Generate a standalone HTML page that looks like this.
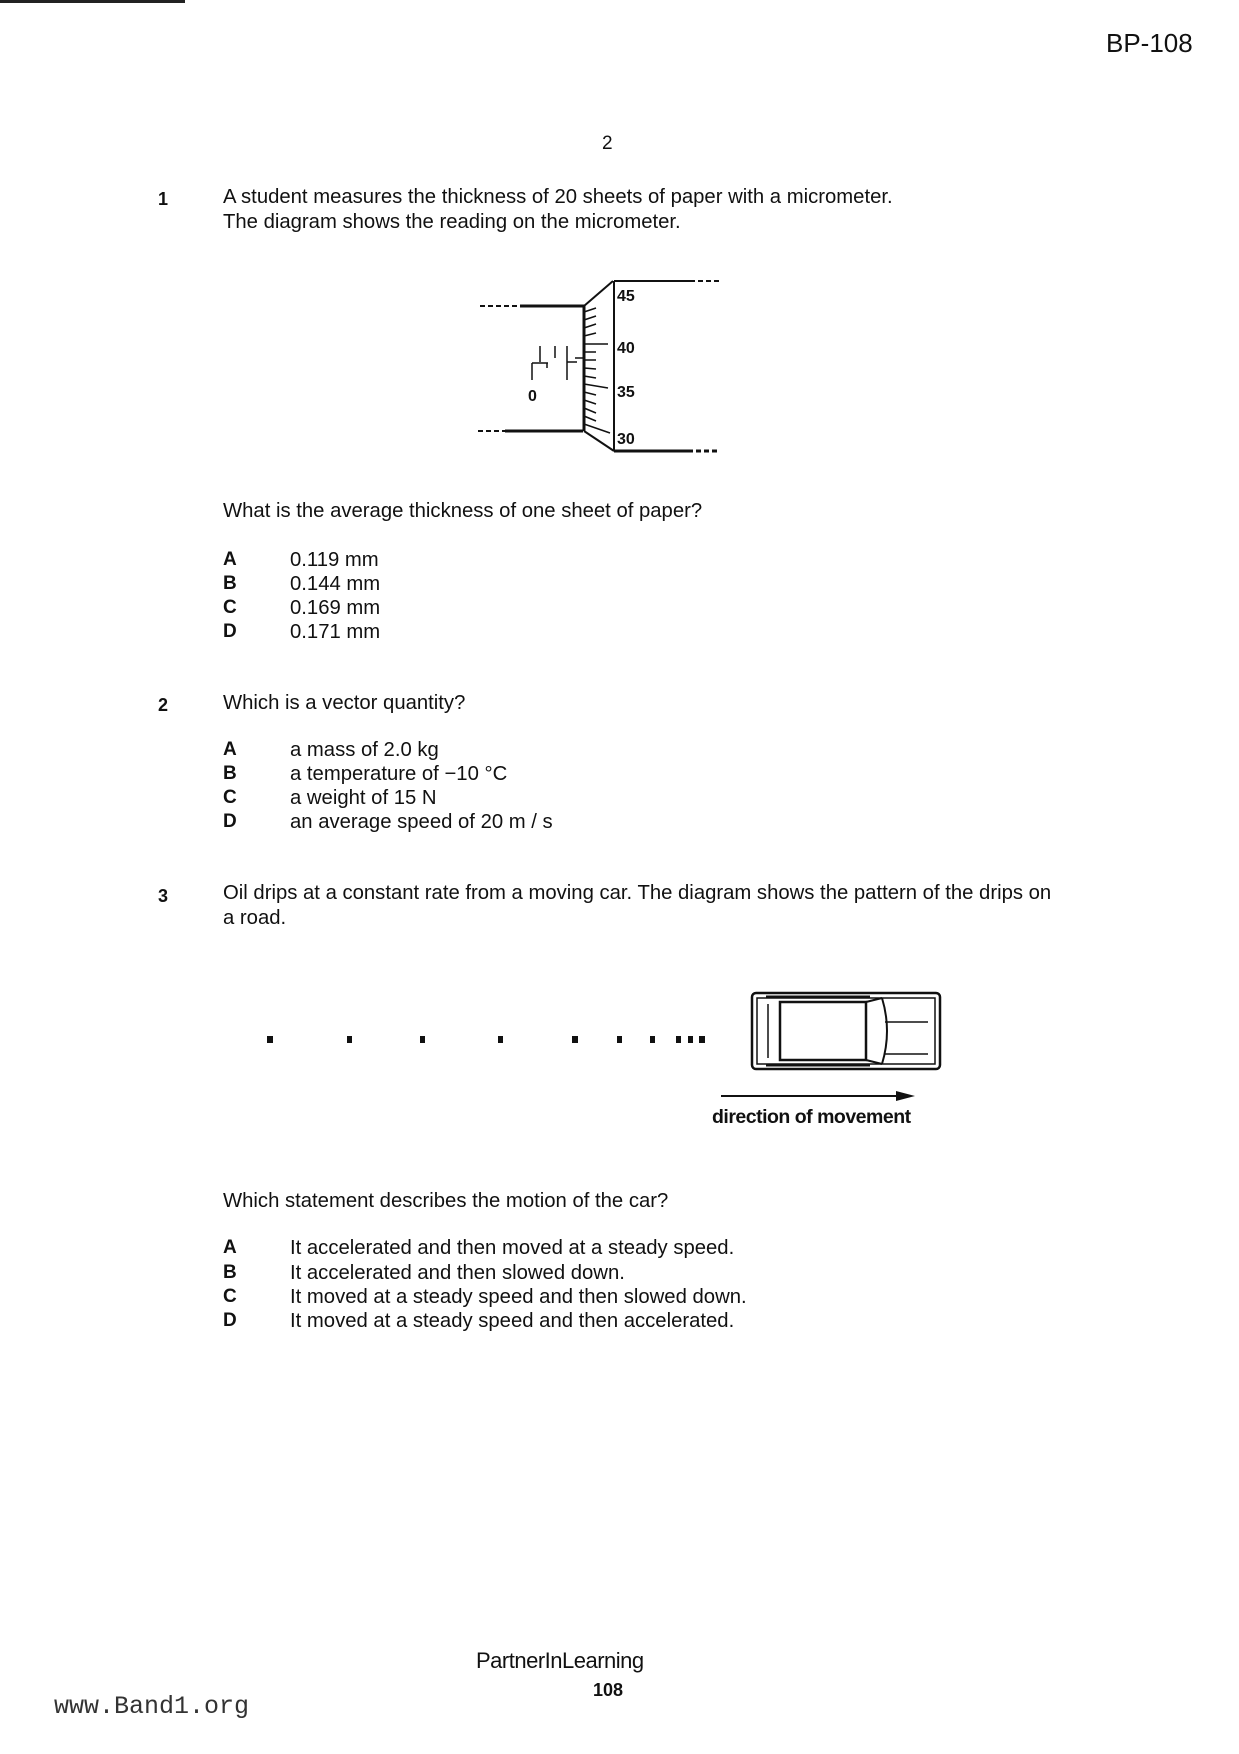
<!DOCTYPE html>
<html><head><style>
body{margin:0;width:1239px;height:1754px;background:#fff;position:relative;font-family:"Liberation Sans",sans-serif;color:#111;overflow:hidden}
.t{position:absolute;font-size:20.3px;white-space:nowrap;line-height:22px}
.b{font-weight:bold}
</style></head><body>
<div style="position:absolute;left:0;top:0;width:185px;height:3px;background:#222"></div>
<div class="t" style="left:1106px;top:29px;font-size:26px;line-height:28px">BP-108</div>
<div class="t" style="left:602px;top:133px;font-size:19px">2</div>

<div class="t b" style="left:158px;top:188px;font-size:18px">1</div>
<div class="t" style="left:223px;top:186px">A student measures the thickness of 20 sheets of paper with a micrometer.</div>
<div class="t" style="left:223px;top:211px">The diagram shows the reading on the micrometer.</div>

<svg style="position:absolute;left:0;top:0" width="1239" height="1754">
<g stroke="#111" fill="none">
<line x1="480" y1="306" x2="520" y2="306" stroke-width="2" stroke-dasharray="5,3"/>
<line x1="520" y1="306" x2="585" y2="306" stroke-width="3"/>
<line x1="478" y1="431" x2="505" y2="431" stroke-width="2" stroke-dasharray="5,3"/>
<line x1="505" y1="431" x2="583" y2="431" stroke-width="3"/>
<line x1="584" y1="306" x2="584" y2="431" stroke-width="3"/>
<line x1="584" y1="306" x2="613" y2="281" stroke-width="2"/>
<line x1="584" y1="431" x2="614" y2="451" stroke-width="2"/>
<line x1="614" y1="281" x2="614" y2="451" stroke-width="2"/>
<line x1="614" y1="281" x2="690" y2="281" stroke-width="2"/>
<line x1="690" y1="281" x2="720" y2="281" stroke-width="2" stroke-dasharray="5,3"/>
<line x1="614" y1="451" x2="688" y2="451" stroke-width="3"/>
<line x1="688" y1="451" x2="718" y2="451" stroke-width="3" stroke-dasharray="5,3"/>
<g stroke-width="1.5">
<line x1="584" y1="312" x2="596" y2="308"/><line x1="584" y1="320" x2="596" y2="316"/><line x1="584" y1="328" x2="596" y2="324"/><line x1="584" y1="336" x2="596" y2="333"/><line x1="584" y1="344" x2="608" y2="344"/><line x1="584" y1="352" x2="596" y2="352"/><line x1="584" y1="360" x2="596" y2="360"/><line x1="584" y1="368" x2="596" y2="369"/><line x1="584" y1="376" x2="596" y2="378"/><line x1="584" y1="384" x2="608" y2="388"/><line x1="584" y1="392" x2="596" y2="395"/><line x1="584" y1="400" x2="596" y2="404"/><line x1="584" y1="408" x2="596" y2="413"/><line x1="584" y1="416" x2="596" y2="421"/><line x1="584" y1="424" x2="610" y2="433"/>
<line x1="532" y1="363" x2="532" y2="380"/><line x1="532" y1="363" x2="548" y2="363"/><line x1="540" y1="346" x2="540" y2="362"/><line x1="547" y1="363" x2="547" y2="368"/>
<line x1="555" y1="346" x2="555" y2="358"/><line x1="567" y1="346" x2="567" y2="362"/><line x1="567" y1="362" x2="577" y2="362"/><line x1="567" y1="362" x2="567" y2="380"/><line x1="575" y1="358" x2="583" y2="358"/>
</g>
</g>
<g font-family="Liberation Sans,sans-serif" font-size="16" font-weight="bold" fill="#111">
<text x="617" y="301">45</text><text x="617" y="353">40</text><text x="617" y="397">35</text><text x="617" y="444">30</text><text x="528" y="401">0</text>
</g>
<g fill="#111">
<rect x="267" y="1036" width="6" height="7"/><rect x="347" y="1036" width="5" height="7"/><rect x="420" y="1036" width="5" height="7"/><rect x="498" y="1036" width="5" height="7"/><rect x="572" y="1036" width="6" height="7"/><rect x="617" y="1036" width="5" height="7"/><rect x="650" y="1036" width="5" height="7"/><rect x="676" y="1036" width="5" height="7"/><rect x="688" y="1036" width="5" height="7"/><rect x="699" y="1036" width="6" height="7"/>
</g>
<g stroke="#111" fill="none" stroke-width="2.5" transform="translate(0,-6)">
<rect x="752" y="999" width="188" height="76" rx="4"/>
<rect x="757" y="1004" width="178" height="66" stroke-width="1.5"/>
<rect x="780" y="1008" width="86" height="58"/>
<line x1="768" y1="1010" x2="768" y2="1064" stroke-width="1.5"/>
<line x1="766" y1="1003" x2="870" y2="1003" stroke-width="3"/>
<line x1="766" y1="1071" x2="870" y2="1071" stroke-width="3"/>
<path d="M866 1008 L882 1004 M866 1066 L882 1070 M882 1004 Q892 1037 882 1070" stroke-width="2"/>
<line x1="885" y1="1028" x2="928" y2="1028" stroke-width="1.5"/><line x1="885" y1="1060" x2="928" y2="1060" stroke-width="1.5"/>
</g>
<line x1="721" y1="1096" x2="904" y2="1096" stroke="#111" stroke-width="2"/>
<polygon points="896,1091 915,1096 896,1101" fill="#111"/>
</svg>

<div class="t" style="left:223px;top:500px">What is the average thickness of one sheet of paper?</div>
<div class="t b" style="left:223px;top:549px;font-size:19px">A</div><div class="t" style="left:290px;top:549px">0.119 mm</div>
<div class="t b" style="left:223px;top:573px;font-size:19px">B</div><div class="t" style="left:290px;top:573px">0.144 mm</div>
<div class="t b" style="left:223px;top:597px;font-size:19px">C</div><div class="t" style="left:290px;top:597px">0.169 mm</div>
<div class="t b" style="left:223px;top:621px;font-size:19px">D</div><div class="t" style="left:290px;top:621px">0.171 mm</div>

<div class="t b" style="left:158px;top:694px;font-size:18px">2</div>
<div class="t" style="left:223px;top:692px">Which is a vector quantity?</div>
<div class="t b" style="left:223px;top:739px;font-size:19px">A</div><div class="t" style="left:290px;top:739px">a mass of 2.0 kg</div>
<div class="t b" style="left:223px;top:763px;font-size:19px">B</div><div class="t" style="left:290px;top:763px">a temperature of −10 °C</div>
<div class="t b" style="left:223px;top:787px;font-size:19px">C</div><div class="t" style="left:290px;top:787px">a weight of 15 N</div>
<div class="t b" style="left:223px;top:811px;font-size:19px">D</div><div class="t" style="left:290px;top:811px">an average speed of 20 m / s</div>

<div class="t b" style="left:158px;top:885px;font-size:18px">3</div>
<div class="t" style="left:223px;top:882px">Oil drips at a constant rate from a moving car. The diagram shows the pattern of the drips on</div>
<div class="t" style="left:223px;top:907px">a road.</div>
<div class="t" style="left:712px;top:1106px;font-weight:bold;font-size:19.5px;letter-spacing:-0.5px">direction of movement</div>

<div class="t" style="left:223px;top:1190px">Which statement describes the motion of the car?</div>
<div class="t b" style="left:223px;top:1237px;font-size:19px">A</div><div class="t" style="left:290px;top:1237px">It accelerated and then moved at a steady speed.</div>
<div class="t b" style="left:223px;top:1262px;font-size:19px">B</div><div class="t" style="left:290px;top:1262px">It accelerated and then slowed down.</div>
<div class="t b" style="left:223px;top:1286px;font-size:19px">C</div><div class="t" style="left:290px;top:1286px">It moved at a steady speed and then slowed down.</div>
<div class="t b" style="left:223px;top:1310px;font-size:19px">D</div><div class="t" style="left:290px;top:1310px">It moved at a steady speed and then accelerated.</div>

<div class="t" style="left:476px;top:1650px;font-size:22px;letter-spacing:-0.5px">PartnerInLearning</div>
<div class="t b" style="left:593px;top:1679px;font-size:18px">108</div>
<div class="t" style="left:54px;top:1693px;font-family:'Liberation Mono',monospace;font-size:25px;line-height:28px;color:#333">www.Band1.org</div>
</body></html>
